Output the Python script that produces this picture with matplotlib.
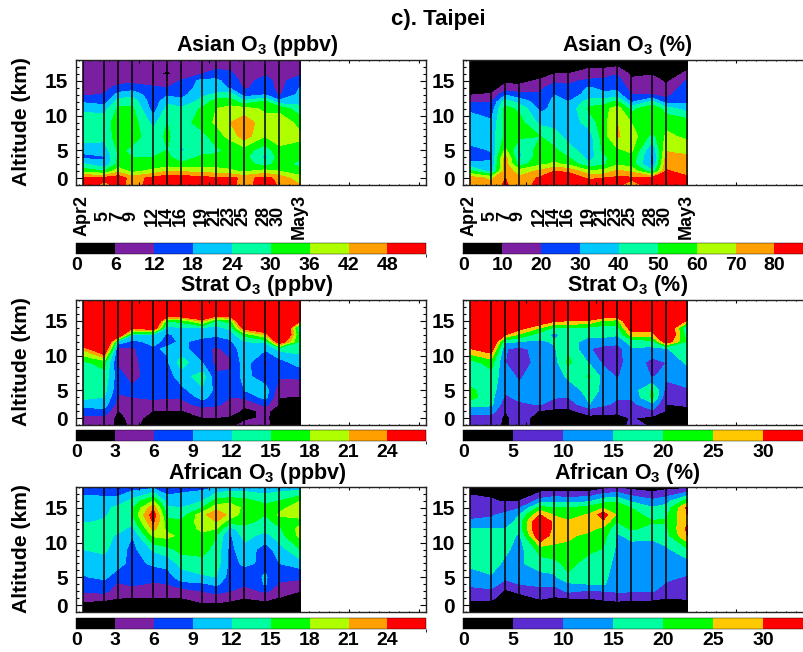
import matplotlib
matplotlib.use("Agg")
import matplotlib.pyplot as plt
import numpy as np
from matplotlib.cm import ScalarMappable
from matplotlib.colors import BoundaryNorm, ListedColormap
from matplotlib.ticker import MultipleLocator

plt.rcParams["font.family"] = ["Liberation Sans", "DejaVu Sans"]
plt.rcParams["font.weight"] = "bold"
plt.rcParams["mathtext.fontset"] = "custom"
plt.rcParams["mathtext.rm"] = "Liberation Sans:bold"
plt.rcParams["mathtext.bf"] = "Liberation Sans:bold"
plt.rcParams["mathtext.default"] = "bf"

FIG_W, FIG_H = 804, 652

# days counted from Apr 1 = 1
DAYS = [2, 5, 7, 9, 12, 14, 16, 19, 21, 23, 25, 28, 30, 33]
DAY_LABELS = ["Apr2", "5", "7", "9", "12", "14", "16", "19", "21", "23", "25", "28", "30", "May3"]
ALT = [0, 1, 2, 3, 4, 5, 7, 9, 11, 12, 13, 14, 15, 16, 18]

# one row per date, from the ground up
ASIAN_PPBV = [
    [52, 50, 33, 25, 16, 20, 27, 27, 23, 17, 11, 9, 8, 8, 7],
    [46, 50, 30, 19, 17.5, 21, 26, 27, 22, 15, 12.5, 10, 9, 8, 7],
    [50, 52, 40, 32, 31, 31, 33, 33, 31, 27, 20, 14, 10, 9, 7],
    [46, 45, 34, 31, 30, 29, 32, 33, 31, 28, 22, 15, 10, 9, 7],
    [50, 50, 38, 31, 30, 30, 27, 22, 15, 14, 14, 13, 9, 6.4, 7],
    [50, 52, 42, 32, 31, 30, 31, 30, 26, 23, 17, 12, 9, 5.7, 7],
    [50, 52, 41, 31, 27, 23, 26, 27, 25, 20, 16, 14, 12.5, 6.6, 7],
    [50, 50, 40, 32, 31, 28, 28, 33, 31, 26, 23, 21, 20, 12, 8],
    [50, 49, 39, 33, 31, 29, 33, 37, 36, 33, 25, 21, 19.5, 14, 8],
    [50, 50, 37, 33, 31, 31, 38, 42, 38, 33, 27, 17, 15, 13, 8],
    [45, 46, 35, 33, 32, 33, 45, 46, 38, 26, 15, 11, 10, 9, 8],
    [52, 50, 38, 27, 22, 26, 36, 38, 35, 31, 18, 15, 14, 11.5, 8],
    [47, 46, 36, 33, 33, 35, 38, 40, 34, 20, 11, 10, 10, 9, 8],
    [42, 38, 33, 28, 31, 34, 37, 34, 26, 22, 20, 18.5, 16, 11, 8],
]
ASIAN_PCT = [
    [75, 75, 52, 33, 25, 27, 35, 35, 28, 19, 9.5, 5, 4, 4, 3],
    [72, 68, 35, 31, 29, 30.5, 35, 32, 24, 19.5, 11, 6, 4, 4, 3],
    [82, 80, 76, 75, 74, 62, 52, 53, 53, 45, 29, 13, 8, 5, 3],
    [72, 72, 65, 45, 38, 39, 52, 54, 48, 36, 24, 12, 8, 5, 3],
    [85, 82, 72, 58, 56, 55, 50, 37, 27, 25, 21, 18, 11, 7, 3],
    [90, 88, 80, 62, 55, 52, 45, 36, 33, 32, 30, 25, 18, 10, 4],
    [92, 88, 78, 58, 50, 44, 36, 34, 32, 30, 26, 22, 18, 10, 4],
    [88, 78, 62, 42, 36, 34, 35, 44, 52, 45, 33, 31, 22, 14, 4],
    [85, 80, 63, 48, 47, 52, 55, 56, 56, 45, 33, 27, 23, 14, 4],
    [82, 82, 72, 58, 56, 58, 71, 70, 65, 52, 34, 27, 24, 19.5, 1],
    [75, 82, 68, 55, 57, 62, 66, 60, 46, 28, 20, 16, 12, 8, 4],
    [86, 82, 42, 27, 27, 30, 46, 60, 58, 42, 20, 18, 15, 9, 5],
    [88, 86, 81, 77, 74, 69, 62, 57, 45, 24, 17, 12, 8, 5, 3],
    [85, 82, 76, 74, 72, 66, 58, 56, 35, 28, 28, 26, 21, 12, 4],
]
STRAT_PPBV = [
    [4.5, 4.5, 8, 10, 13, 14, 14, 14.5, 22, 30, 35, 38, 40, 40, 40],
    [5, 5, 8, 10.5, 12, 13, 14, 16, 30, 35, 38, 40, 40, 40, 40],
    [2, 2, 2.8, 4.5, 5.5, 6.5, 7, 5.5, 5.5, 11, 30, 40, 40, 40, 40],
    [3.5, 4, 4.5, 5, 6, 6.5, 5, 5, 5.5, 8, 12, 25, 35, 40, 40],
    [2, 2, 2.9, 5, 6.5, 7, 7.5, 8, 8.5, 10, 11.5, 28, 35, 40, 40],
    [2, 2, 2.8, 4.5, 6.2, 7, 7.5, 8.5, 9.5, 8, 8.5, 11, 15, 30, 40],
    [2, 2, 2.8, 4.6, 6.5, 8, 10.5, 13.5, 10, 9.5, 10, 12, 16, 30, 40],
    [2.7, 2.9, 4, 7.5, 10, 11.5, 13.5, 9, 7, 8, 10, 12, 22, 35, 40],
    [2.8, 2.9, 4.5, 6.5, 7.5, 8, 6.5, 5, 5.5, 7.5, 9.5, 11, 14.5, 28, 40],
    [2.5, 2.5, 4, 5, 6, 7, 6.5, 5.5, 7, 8.5, 10, 13, 16, 30, 40],
    [3.5, 2.6, 2.4, 3.5, 6.5, 9, 10, 10.5, 11, 12, 16, 26, 35, 38, 40],
    [3.5, 3.3, 3.4, 7, 10, 10.5, 7, 5.5, 9.5, 12.5, 21, 30, 38, 40, 40],
    [2, 2, 2.2, 2.7, 3, 4, 6.3, 7.5, 13, 28, 38, 40, 40, 40, 40],
    [2, 2, 2.2, 2.5, 2.9, 4, 6.5, 10.5, 13, 14, 13, 10, 24, 35, 40],
]
STRAT_PCT = [
    [4.5, 8, 12, 17, 22, 21, 17, 18, 30, 40, 40, 40, 40, 40, 40],
    [7, 8, 12, 16, 16.5, 17, 18, 22, 34, 40, 40, 40, 40, 40, 40],
    [4, 4, 5, 7, 9, 11, 12, 10, 10.2, 16, 30, 40, 40, 40, 40],
    [7, 7, 8, 9, 11.5, 11, 9.3, 8, 9, 15, 24, 33, 40, 40, 40],
    [3, 3, 4.5, 10.5, 12, 12.5, 13, 11.5, 11.5, 14.3, 17, 25, 36, 40, 40],
    [3, 3, 4, 7, 10.5, 12, 12, 13, 14.5, 15.5, 14, 19, 31, 40, 40],
    [3, 3, 4, 6.5, 10, 12, 16, 21, 19, 17, 16.5, 20, 30, 40, 40],
    [3, 3.5, 7, 15, 16, 17, 20.5, 14.5, 10.3, 13, 16, 19, 29, 40, 40],
    [3, 3.5, 6.5, 11, 13, 14, 13, 9, 8, 13.5, 16, 18, 24, 38, 40],
    [3, 3.5, 6, 9, 10.5, 12, 9.5, 7, 7.5, 12, 15.5, 18, 23, 38, 40],
    [6, 5.3, 7, 8.5, 10.5, 12, 13, 14, 14.5, 17, 27, 34, 40, 40, 40],
    [4.5, 3.5, 9, 14, 21, 20.5, 9.7, 8, 14, 18, 28, 33, 40, 40, 40],
    [3, 3.5, 4.5, 5, 6, 8, 11, 10, 14.5, 34, 40, 40, 40, 40, 40],
    [3, 3.5, 4, 5.5, 7, 9.5, 12, 16, 20, 19, 17, 14, 29, 40, 40],
]
AFRICAN_PPBV = [
    [2, 2, 4, 6.5, 7.5, 8.8, 10, 12, 14, 14.6, 11.5, 11, 11, 10, 7.5],
    [2, 2, 3.5, 7, 8, 9.5, 11, 12.5, 13, 12, 12.5, 11.5, 11, 10, 7],
    [2, 2.5, 3, 4, 5.5, 7.5, 10, 10.5, 11.5, 13, 13.5, 13.5, 13, 10, 7],
    [2, 2, 2.9, 4.5, 6.5, 7, 8, 8, 9, 11, 13, 15, 14.5, 13, 7.5],
    [2, 2, 2.9, 4, 5.5, 7, 9.5, 12.5, 18.5, 22, 24.5, 26, 23, 18, 8],
    [2, 2, 2.9, 4, 6, 7.5, 10, 14, 19, 17, 16, 14, 12.5, 10.5, 7],
    [2, 2, 2.9, 4.5, 8, 10.5, 13, 16, 17, 16.5, 15.5, 13.5, 12, 11, 7.5],
    [2, 2.5, 4, 6, 8.5, 11.5, 14, 16, 17.5, 18.5, 19.5, 20, 15, 12, 8],
    [2, 2.3, 4.5, 7, 9.5, 12, 13.5, 14, 15, 18, 21, 23.5, 20, 16, 9],
    [2, 2.3, 3.5, 6, 7, 7.5, 8, 8, 8.5, 11, 16, 20, 20.5, 16.5, 10],
    [2, 2.5, 3, 4.5, 6.5, 7.5, 9.5, 11, 13, 14, 16, 16.5, 17, 16, 10],
    [2, 2.2, 3.5, 6.5, 9.2, 9.3, 8.5, 7.5, 11, 13, 14, 15, 16, 14, 10],
    [2, 2, 2.8, 4.5, 5.5, 7, 9, 10.5, 13.5, 14.5, 16, 18.5, 17, 15, 10.5],
    [2, 2, 2.5, 3, 5, 6.5, 10.5, 15, 19, 19, 17, 19, 20, 18, 10],
]
AFRICAN_PCT = [
    [2, 3, 6, 8, 11, 13, 16, 18, 19.5, 15.5, 10.5, 9, 8, 6.5, 3],
    [2, 3, 6, 9, 12, 14.5, 17, 18, 18, 15, 11, 9.5, 8, 5.5, 3],
    [2, 2, 2.5, 4, 8, 11, 14, 16, 18, 15, 12, 11, 8, 4.5, 3],
    [2, 2, 3, 6, 10, 13, 14, 13, 14, 17, 17, 15, 9.5, 5, 3],
    [2, 2.5, 5.5, 8, 11, 13, 18, 22, 36, 38, 38, 30, 22, 12, 1],
    [2, 2.3, 4.5, 7, 11, 14, 18, 24, 26.5, 28, 28, 24.5, 20, 14, 1],
    [2, 2.3, 5, 11, 14, 19, 22, 23.5, 26, 28, 25.5, 23, 20, 13, 1],
    [2, 2.3, 5, 9, 15, 17, 17, 21.5, 23.5, 26.5, 27.5, 25.5, 22, 14, 1],
    [2, 2.5, 6, 10, 15.5, 16, 17, 19.5, 22, 23.5, 29, 33, 24.5, 18, 3],
    [2, 2.5, 7, 10.5, 12, 13, 13.5, 14, 14.5, 16.5, 20, 24, 23, 19, 4],
    [2, 2.5, 6, 10.5, 11, 12, 12.5, 13.5, 16, 21, 22, 22, 20, 14, 3],
    [2, 2.5, 6, 10.5, 12, 13, 14.5, 13, 16, 18, 20.5, 18, 15.5, 11, 2],
    [2, 2.5, 5, 7, 9.5, 11, 13, 14, 18, 19, 20.5, 19, 17, 13, 3],
    [2, 2.5, 5.5, 7, 8.5, 9.5, 13, 19, 30, 31, 29, 30, 31, 22, 3],
]

COLORS_9 = ["#000000", "#7B1FA2", "#0040FF", "#00C8FF", "#00FFA0", "#00FF00", "#B0FF00", "#FFA000", "#FF0000"]
COLORS_7 = ["#000000", "#5A2BD0", "#0096FF", "#00FFA0", "#00FF00", "#FFC800", "#FF0000"]

# title, data, colour step, colours, column, axes top pixel, colorbar top pixel
PANELS = [
    ("Asian", "ppbv", ASIAN_PPBV, 6, COLORS_9, 0, 60, 243),
    ("Asian", "%", ASIAN_PCT, 10, COLORS_9, 1, 60, 243),
    ("Strat", "ppbv", STRAT_PPBV, 3, COLORS_9, 0, 300, 430),
    ("Strat", "%", STRAT_PCT, 5, COLORS_7, 1, 300, 430),
    ("African", "ppbv", AFRICAN_PPBV, 3, COLORS_9, 0, 487, 618),
    ("African", "%", AFRICAN_PCT, 5, COLORS_7, 1, 487, 618),
]
LEFT = [76.3, 463.3]
TITLE_X = [257, 627.5]
AX_W, AX_H, CB_H = 350, 125, 10.5


def axes_px(fig, x, top, w, h):
    return fig.add_axes([x / FIG_W, 1 - (top + h) / FIG_H, w / FIG_W, h / FIG_H])


def desenha_painel(fig, nome, unidade, dados, passo, cores, coluna, topo, topo_barra):
    ax = axes_px(fig, LEFT[coluna], topo, AX_W, AX_H)
    niveis = [passo * i for i in range(len(cores) + 1)]
    cmap = ListedColormap(cores)
    norm = BoundaryNorm(niveis, cmap.N)
    z = np.array(dados).T
    ax.contourf(DAYS, ALT, z, levels=niveis, cmap=cmap, norm=norm, extend="both")
    ax.vlines(DAYS, 0, 18, color="black", lw=1.1)

    ax.set_xlim(1, 51)
    ax.set_ylim(0, 18)
    ax.xaxis.set_major_locator(MultipleLocator(10))
    ax.xaxis.set_minor_locator(MultipleLocator(10 / 7))
    ax.yaxis.set_minor_locator(MultipleLocator(1))
    ax.set_yticks([1, 5, 10, 15])
    ax.set_yticklabels(["0", "5", "10", "15"], fontsize=15)
    ax.set_xticklabels([])
    ax.tick_params(axis="y", which="major", direction="in", length=4.3, width=0.8, left=True, right=True, pad=6)
    ax.tick_params(axis="y", which="minor", direction="in", length=2.3, width=0.8, left=True, right=True)
    ax.tick_params(axis="x", which="major", direction="in", length=2, width=0.8, top=True, bottom=True)
    ax.tick_params(axis="x", which="minor", direction="in", length=1, width=0.8, top=True, bottom=True)
    for lado in ax.spines.values():
        lado.set_linewidth(1.0)
        lado.set_color("#222222")

    fig.text(TITLE_X[coluna] / FIG_W, 1 - (topo - 14) / FIG_H,
             f"{nome} O$_3$ ({unidade})", ha="center", va="center", fontsize=15.5)
    if coluna == 0:
        fig.text(22 / FIG_W, 1 - (topo + 62) / FIG_H, "Altitude (km)", rotation=90,
                 ha="center", va="center", fontsize=15.2)

    if topo == 60:
        for dia, rotulo in zip(DAYS, DAY_LABELS):
            x = LEFT[coluna] + (dia - 1) * 7 - 1
            fig.text(x / FIG_W, 1 - 216 / FIG_H, rotulo, rotation=90, ha="center", va="center", fontsize=13)

    cax = axes_px(fig, LEFT[coluna], topo_barra, AX_W, CB_H)
    barra = fig.colorbar(ScalarMappable(norm=norm, cmap=cmap), cax=cax, orientation="horizontal", spacing="proportional")
    barra.set_ticks(niveis[:-1])
    barra.set_ticklabels([str(n) for n in niveis[:-1]], fontsize=14)
    barra.ax.tick_params(length=0, pad=2.5)
    barra.outline.set_linewidth(0.3)


fig = plt.figure(figsize=(FIG_W / 100, FIG_H / 100), dpi=100)
fig.text(438 / FIG_W, 1 - 20 / FIG_H, "c). Taipei", ha="center", va="center", fontsize=16)
for painel in PANELS:
    desenha_painel(fig, *painel)
fig.savefig("out.png", dpi=100)
